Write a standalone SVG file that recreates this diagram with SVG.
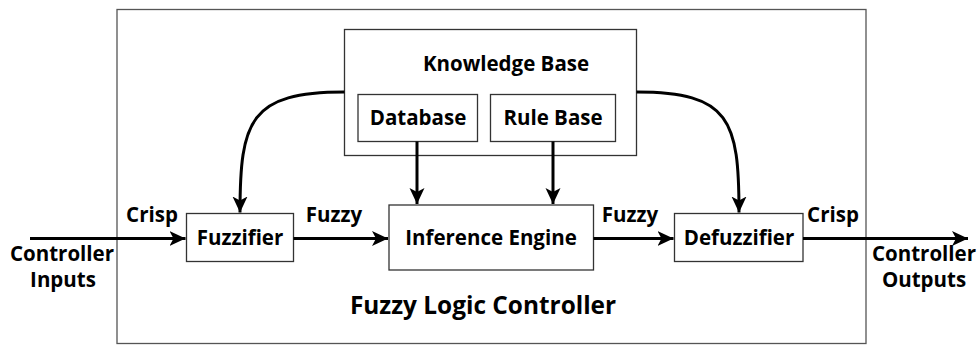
<svg xmlns="http://www.w3.org/2000/svg" width="978" height="345" viewBox="0 0 978 345">
<style>
.box{fill:#fff;stroke:#333;stroke-width:1.3}
.outer{fill:#fff;stroke:#555;stroke-width:1.3}
.t{font-family:"Open Sans","DejaVu Sans",sans-serif;font-weight:bold;font-size:20.5px;fill:#000;text-anchor:middle}
.big{font-size:24.4px}
.c{fill:none;stroke:#000;stroke-width:3}
</style>
<defs>
<marker id="ah" markerUnits="userSpaceOnUse" markerWidth="17" markerHeight="17" viewBox="0 0 17 17" refX="16" refY="8.5" orient="auto">
<path d="M0,1 L16,8.5 L0,16 L4,8.5 Z" fill="#000"/>
</marker>
</defs>
<rect id="flc" class="outer" x="117" y="9.5" width="749" height="334"/>
<text class="t big" x="483" y="314">Fuzzy Logic Controller</text>
<g id="kb">
<rect class="box" x="344.5" y="29.5" width="292" height="126"/>
<text class="t" x="506" y="71">Knowledge Base</text>
</g>
<g id="database">
<rect class="box" x="358" y="94.5" width="119.5" height="47"/>
<text class="t" x="418" y="124.5">Database</text>
</g>
<g id="rulebase">
<rect class="box" x="490.5" y="94.5" width="125" height="47"/>
<text class="t" x="553" y="124.5">Rule Base</text>
</g>
<g id="fuzzifier">
<rect class="box" x="186.5" y="213.5" width="107" height="48"/>
<text class="t" x="240" y="244.5">Fuzzifier</text>
</g>
<g id="inference">
<rect class="box" x="389" y="205" width="204.5" height="65"/>
<text class="t" x="491" y="244.5">Inference Engine</text>
</g>
<g id="defuzzifier">
<rect class="box" x="674.5" y="213.5" width="128.5" height="48"/>
<text class="t" x="739" y="244.5">Defuzzifier</text>
</g>
<g id="connectors">
<path class="c" d="M30,238.5 L185.5,238.5" marker-end="url(#ah)"/>
<path class="c" d="M293.5,238.5 L388,238.5" marker-end="url(#ah)"/>
<path class="c" d="M593.5,238.5 L673.5,238.5" marker-end="url(#ah)"/>
<path class="c" d="M803,238.5 L968,238.5" marker-end="url(#ah)"/>
<path class="c" d="M417,141.5 L417,204" marker-end="url(#ah)"/>
<path class="c" d="M553,141.5 L553,204" marker-end="url(#ah)"/>
<path class="c" d="M344.5,92 C250,92 240,120 240,212.5" marker-end="url(#ah)"/>
<path class="c" d="M636.5,92 C730,92 739,120 739,212.5" marker-end="url(#ah)"/>
</g>
<g id="labels">
<text class="t" x="152" y="222">Crisp</text>
<text class="t" x="334" y="222">Fuzzy</text>
<text class="t" x="630" y="222">Fuzzy</text>
<text class="t" x="833" y="222">Crisp</text>
<text class="t" x="62" y="261">Controller</text>
<text class="t" x="63" y="287">Inputs</text>
<text class="t" x="924" y="261">Controller</text>
<text class="t" x="924" y="287">Outputs</text>
</g>
</svg>
